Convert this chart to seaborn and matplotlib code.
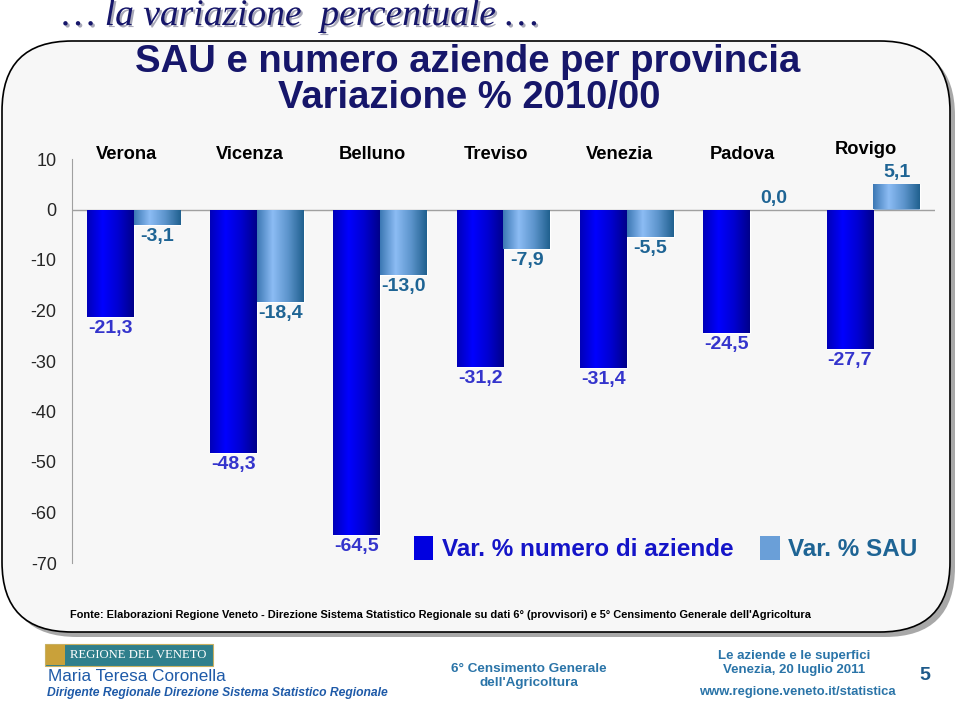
import numpy as np
import pandas as pd
import matplotlib
matplotlib.use('Agg')
import matplotlib.pyplot as plt
import matplotlib.patheffects as pe
import seaborn as sns
from matplotlib.patches import FancyBboxPatch, Rectangle, Patch
from matplotlib.colors import LinearSegmentedColormap

# Dati: variazione % 2010/00 per provincia
province = ['Verona', 'Vicenza', 'Belluno', 'Treviso', 'Venezia', 'Padova', 'Rovigo']
var_aziende = [-21.3, -48.3, -64.5, -31.2, -31.4, -24.5, -27.7]
var_sau = [-3.1, -18.4, -13.0, -7.9, -5.5, 0.0, 5.1]
serie = ['Var. % numero di aziende', 'Var. % SAU']
yticks = [10, 0, -10, -20, -30, -40, -50, -60, -70]

df = pd.DataFrame({
    'provincia': province * 2,
    'serie': [serie[0]] * len(province) + [serie[1]] * len(province),
    'valore': var_aziende + var_sau,
})

sns.set_style('white')
plt.rcParams['font.family'] = ['Liberation Sans', 'DejaVu Sans']
plt.rcParams['axes.unicode_minus'] = False

NAVY = '#16166a'
BLU_ETIC = '#3434cc'
AZZ_ETIC = '#1e6494'
FOOT = '#2a74a8'

fig = plt.figure(figsize=(9.6, 7.01), dpi=100)
fig.patch.set_facecolor('white')

# sfondo in coordinate pixel
bg = fig.add_axes([0, 0, 1, 1], zorder=0)
bg.set_xlim(0, 960)
bg.set_ylim(701, 0)
bg.axis('off')

bg.add_patch(FancyBboxPatch((7, 46), 948, 591, boxstyle='round,pad=0,rounding_size=70',
                            fc='#a8a8a8', ec='none'))
bg.add_patch(FancyBboxPatch((2, 41), 948, 591, boxstyle='round,pad=0,rounding_size=70',
                            fc='#f7f7f7', ec='black', lw=1.2))

# titolo in alto
bg.text(62, 25, '… la variazione  percentuale …', family='Liberation Serif', style='italic',
        fontsize=27, color=NAVY, va='baseline', ha='left',
        path_effects=[pe.SimplePatchShadow(offset=(1.5, -1.5), shadow_rgbFace='#a8a8b8', alpha=1),
                      pe.Normal()])

bg.text(468, 62, 'SAU e numero aziende per provincia', weight='bold',
        fontsize=27.5, color=NAVY, ha='center', va='center')
bg.text(469, 98, 'Variazione % 2010/00', weight='bold',
        fontsize=27.5, color=NAVY, ha='center', va='center')

bg.text(70, 615, "Fonte: Elaborazioni Regione Veneto - Direzione Sistema Statistico Regionale su dati 6° "
        "(provvisori) e 5° Censimento Generale dell'Agricoltura", fontsize=7.9, weight='bold',
        color='black', ha='left', va='center')

# piè di pagina
bg.add_patch(Rectangle((45, 644), 168, 22, fc='#2f7f8c', ec='#c8b060', lw=0.8))
bg.add_patch(Rectangle((46, 645), 19, 20, fc='#c9a13a', ec='none'))
bg.text(70, 655, 'REGIONE DEL VENETO', family='Liberation Serif', fontsize=9.2,
        color='white', ha='left', va='center')
bg.text(48, 681, 'Maria Teresa Coronella', fontsize=12.3, color='#1e5aa8', ha='left', va='baseline')
bg.text(47, 696, 'Dirigente Regionale Direzione Sistema Statistico Regionale', fontsize=8.7,
        style='italic', weight='bold', color='#1e5aa8', ha='left', va='baseline')
bg.text(529, 676, "6° Censimento Generale\ndell'Agricoltura", fontsize=9.7, weight='bold',
        color=FOOT, ha='center', va='center', linespacing=1.2)
bg.text(794, 663, 'Le aziende e le superfici\nVenezia, 20 luglio 2011', fontsize=9.5, weight='bold',
        color=FOOT, ha='center', va='center', linespacing=1.15)
bg.text(797, 692, 'www.regione.veneto.it/statistica', fontsize=9.4, weight='bold',
        color=FOOT, ha='center', va='center')
bg.text(925, 676, '5', fontsize=14, weight='bold', color='#1e5a8a', ha='center', va='center')

# grafico
ax = fig.add_axes([72 / 960, 1 - 563 / 701, 863 / 960, (563 - 159) / 701], zorder=2)
ax.set_facecolor('none')
sns.barplot(data=df, x='provincia', y='valore', hue='serie', hue_order=serie,
            palette=['#0000e0', '#6a9fd8'], width=0.76, saturation=1, legend=False, ax=ax)

gradienti = [
    ['#0000b8', '#0000ff', '#0000d0', '#00008a'],
    ['#3c78b4', '#8cbcf4', '#5c94cc', '#20608e'],
]
grad = np.linspace(0, 1, 128).reshape(1, -1)
for cont, cols in zip(ax.containers, gradienti):
    cmap = LinearSegmentedColormap.from_list('g', cols)
    for bar in cont:
        if bar.get_height() == 0:
            continue
        x0, y0 = bar.get_x(), bar.get_y()
        w, h = bar.get_width(), bar.get_height()
        im = ax.imshow(grad, cmap=cmap, extent=(x0, x0 + w, min(y0, y0 + h), max(y0, y0 + h)),
                       aspect='auto', zorder=bar.get_zorder() + 0.1, interpolation='bilinear')
        im.set_clip_path(bar)

ax.set_xlim(-0.5, len(province) - 0.5)
ax.set_ylim(-70, 10)
ax.axhline(0, color='#a0a0a0', lw=1, zorder=1)

# etichette dei valori
for cont, vals, col in zip(ax.containers, [var_aziende, var_sau], [BLU_ETIC, AZZ_ETIC]):
    for bar, v in zip(cont, vals):
        cx = bar.get_x() + bar.get_width() / 2
        sotto = v < 0
        ax.annotate(f'{v:.1f}'.replace('.', ','), xy=(cx, v), xytext=(0, -2 if sotto else 2),
                    textcoords='offset points', ha='center', va='top' if sotto else 'bottom',
                    fontsize=14, weight='bold', color=col, annotation_clip=False, zorder=5)

# nomi delle province
for i, p in enumerate(province):
    yy = 11.9 if p == 'Rovigo' else 10.9
    ax.text(i - 0.06, yy, p, ha='center', va='center', fontsize=13.2, weight='bold',
            color='black', clip_on=False)

sns.despine(ax=ax, top=True, right=True, bottom=True)
ax.spines['left'].set_color('#a0a0a0')
ax.set_yticks(yticks)
ax.set_yticklabels([str(t) for t in yticks])
ax.tick_params(axis='y', direction='out', length=5, color='#a0a0a0', labelsize=13, pad=6)
ax.tick_params(axis='x', bottom=False, labelbottom=False)
ax.set_xlabel('')
ax.set_ylabel('')
ax.grid(False)

handles = [Patch(fc='#0000e0', ec='none'), Patch(fc='#6a9fd8', ec='none')]
ax.legend(handles, serie, loc='center left', bbox_to_anchor=(0.396, 0.035), ncol=2,
          frameon=False, prop={'size': 17.5, 'weight': 'bold'}, labelcolor=['#1414c8', AZZ_ETIC],
          handlelength=0.8, handleheight=1.1, handletextpad=0.35, columnspacing=1.1,
          borderpad=0, borderaxespad=0)

fig.savefig('out.png', dpi=100)
